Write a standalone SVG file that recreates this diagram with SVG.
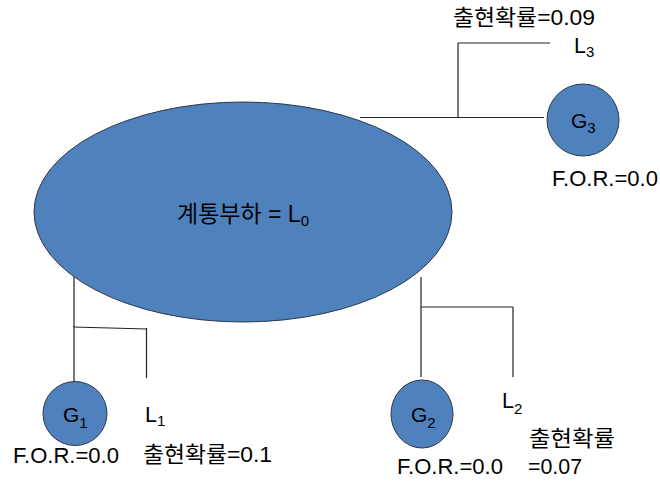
<svg xmlns="http://www.w3.org/2000/svg" width="660" height="482" viewBox="0 0 660 482">
<style>
.shape{fill:#4F81BD;stroke:#2b3a4a;stroke-width:1}
.conn{fill:none;stroke:#222;stroke-width:1.2}
.t{font-family:"Liberation Sans","Noto Sans CJK KR",Arial,sans-serif;font-size:21.5px;fill:#000}
.g{font-family:"Liberation Sans","Noto Sans CJK KR",Arial,sans-serif;font-size:21px;fill:#000}
.sub{font-size:15px}
</style>
<rect width="660" height="482" fill="#fff"/>
<g id="connectors">
<path class="conn" d="M360 117.5H544M458 117.5V43"/>
<path class="conn" d="M458 43H550" stroke="#555" stroke-width="1.6"/>
<path class="conn" d="M74 273V382M73 327L147 329M146.5 328V378"/>
<path class="conn" d="M421 277V377M421 307H513M513 307V377" stroke="#555"/>
</g>
<g id="L0">
<ellipse class="shape" cx="243" cy="212" rx="209" ry="110"/>
<text class="t" x="177" y="222" style="font-size:23px">계통부하 = L<tspan class="sub" dy="4">0</tspan></text>
</g>
<g id="G1">
<circle class="shape" cx="75" cy="413.5" r="32"/>
<text class="g" x="63" y="422">G<tspan class="sub" dy="6">1</tspan></text>
<text class="t" x="13" y="463" textLength="106" lengthAdjust="spacingAndGlyphs">F.O.R.=0.0</text>
</g>
<g id="G2">
<ellipse class="shape" cx="422" cy="414" rx="31" ry="34"/>
<text class="g" x="411" y="422">G<tspan class="sub" dy="6">2</tspan></text>
<text class="t" x="397" y="474" textLength="106" lengthAdjust="spacingAndGlyphs">F.O.R.=0.0</text>
</g>
<g id="G3">
<circle class="shape" cx="583" cy="120" r="36"/>
<text class="g" x="571" y="128">G<tspan class="sub" dy="5">3</tspan></text>
<text class="t" x="552" y="186" textLength="106" lengthAdjust="spacingAndGlyphs">F.O.R.=0.0</text>
</g>
<g id="L1">
<text class="t" x="145" y="422">L<tspan class="sub" dy="4">1</tspan></text>
<text class="t" x="143" y="462" textLength="129" lengthAdjust="spacingAndGlyphs">출현확률=0.1</text>
</g>
<g id="L2">
<text class="t" x="502" y="408">L<tspan class="sub" dy="6">2</tspan></text>
<text class="t" x="529" y="446" textLength="86" lengthAdjust="spacingAndGlyphs">출현확률</text>
<text class="t" x="528" y="474" textLength="54" lengthAdjust="spacingAndGlyphs">=0.07</text>
</g>
<g id="L3">
<text class="t" x="574" y="53">L<tspan class="sub" dy="4">3</tspan></text>
<text class="t" x="453" y="25" textLength="142" lengthAdjust="spacingAndGlyphs">출현확률=0.09</text>
</g>
</svg>
